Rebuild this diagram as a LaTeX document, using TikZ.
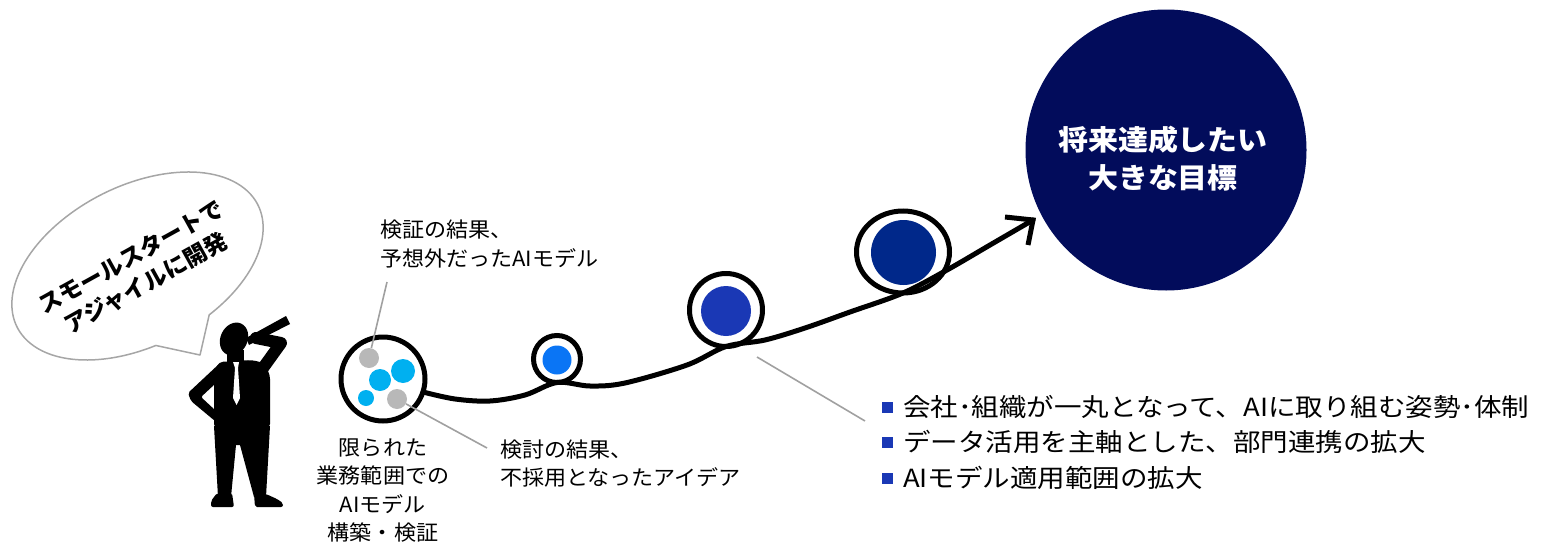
\documentclass[tikz,border=0pt]{standalone}
\usepackage{fontspec}
\setmainfont{Noto Sans CJK JP}
\newfontfamily\jpwide{Noto Sans CJK JP}[FakeStretch=1.1]
\newfontfamily\jpsoft{Noto Sans CJK JP}[FakeStretch=1.05]
\newfontfamily\jpgoal{Noto Sans CJK JP}[FakeStretch=1.07]
\usetikzlibrary{shapes.geometric}

\definecolor{navy}{HTML}{020C5B}
\definecolor{deepblue}{HTML}{00288A}
\definecolor{midblue}{HTML}{1A38B5}
\definecolor{brightblue}{HTML}{0A75F5}
\definecolor{cyanball}{HTML}{00B0F0}
\definecolor{grayball}{HTML}{B8B8B8}
\definecolor{calloutgray}{HTML}{A0A0A0}
\definecolor{bubbleedge}{HTML}{A6A6A6}

\begin{document}
\begin{tikzpicture}[x=1pt, y=-1pt,
  ring/.style={circle, draw=black, line width=5pt, inner sep=0pt, outer sep=0pt},
  ball/.style={circle, inner sep=0pt},
  callline/.style={draw=calloutgray, line width=1.6pt},
  lbl/.style={inner sep=0pt, font=\jpsoft\fontsize{21}{28.5}\selectfont},
  bulletsq/.style={rectangle, fill=midblue, inner sep=0pt, minimum size=11pt},
  bullettext/.style={inner sep=0pt, anchor=west, font=\jpwide\fontsize{25}{30}\selectfont},
  road/.style={line width=5pt, line cap=round, line join=round},
]
\useasboundingbox (0,0) rectangle (1548,546);

% speech bubble with its tail
\begin{scope}[shift={(137.5,266)}, rotate=27]
  \filldraw[fill=white, draw=bubbleedge, line width=1.5pt, line join=round]
    (72:135 and 80) arc[start angle=72, end angle=-261.6, x radius=135, y radius=80]
    -- (15.3,107.7) -- cycle;
\end{scope}
\node[rotate=29, align=center, inner sep=0pt,
      font=\fontsize{23}{30}\selectfont\bfseries] (say) at (138.5,270)
  {スモールスタートで\\アジャイルに開発};

% man looking through a telescope
\begin{scope}[fill=black]
  % telescope
  \fill (246,338) -- (286,316) -- (290,324) -- (249,345) -- cycle;
  % head and neck
  \fill[rotate around={-25:(234,339)}] (234,339) ellipse[x radius=13.5, y radius=17];
  \fill (227,350) rectangle (244,367);
  % torso
  \fill[rounded corners=4pt] (214,372) -- (219,362) -- (252,360) -- (264,363)
    -- (270,375) -- (270,428) -- (214,428) -- cycle;
  % raised arm holding the telescope
  \draw[line width=12pt, line cap=round, line join=round] (263,368) -- (281,343) -- (256,338);
  % arm resting on the hip
  \fill[rounded corners=2pt] (219,364) -- (188,393) -- (191,401) -- (215,421)
    -- (215,410) -- (201,397) -- (215,384) -- cycle;
  % legs
  \fill (214,426) -- (270,426) -- (266,497) -- (254,497) -- (240,445)
    -- (236,445) -- (231,497) -- (218,497) -- cycle;
  % shoes
  \fill[rounded corners=2pt] (217,493) -- (232,493) -- (234,507) -- (211,507) -- (211,501) -- cycle;
  \fill[rounded corners=2pt] (254,494) -- (266,494) -- (277,499) -- (283,503) -- (283,507) -- (255,507) -- cycle;
\end{scope}
% tie
\fill[white] (233,362) -- (239,362) -- (238,368) -- (240,398) -- (236.5,405)
  -- (233,398) -- (235,368) -- cycle;

% starting circle with the first ideas
\node[ring, minimum size=84pt] (start) at (383,379) {};
\node[ball, fill=grayball, minimum size=20pt] (g1) at (369,358) {};
\node[ball, fill=cyanball, minimum size=24pt] (c1) at (403,371) {};
\node[ball, fill=cyanball, minimum size=22pt] (c2) at (380,380) {};
\node[ball, fill=cyanball, minimum size=16pt] (c3) at (366,398) {};
\node[ball, fill=grayball, minimum size=20pt] (g2) at (397,399) {};

% loops along the road
\node[ring, minimum size=47pt] (loopA) at (557,359) {};
\node[ball, fill=brightblue, minimum size=29pt] (dotA) at (557,360) {};
\node[ring, minimum size=73pt] (loopB) at (726,310) {};
\node[ball, fill=midblue, minimum size=50pt] (dotB) at (726,311) {};
\node[ellipse, draw=black, line width=5pt, inner sep=0pt, outer sep=0pt,
      minimum width=93pt, minimum height=82pt] (loopC) at (903,252) {};
\node[ball, fill=deepblue, minimum size=65pt] (dotC) at (903.5,252.5) {};

% the goal
\node[ball, fill=navy, minimum size=281pt] (goal) at (1166,150) {};
\node[align=center, inner sep=0pt, text=white,
      font=\jpgoal\fontsize{28}{38}\selectfont\bfseries] (goaltext) at (1163,159)
  {将来達成したい\\大きな目標};

% road with arrow head
\coordinate (tip) at (1033,220);
\coordinate (barbA) at (1005,217);
\coordinate (barbB) at (1028,245);
\draw[road] plot[smooth, tension=0.55] coordinates {(start.-18) (455,399) (490,401)
  (525,395) (loopA.south) (590,386) (625,383) (687,365) (loopB.south) (765,340)
  (805,328) (850,312) (loopC.south) (947,270) (990,245) (tip)};
\draw[line width=5pt, line cap=butt, line join=miter] (barbA) -- (tip) -- (barbB);

% callouts
\coordinate (cA) at (387,282);
\coordinate (cB) at (487,448);
\coordinate (cC) at (757,357);
\coordinate (cD) at (865,421);
\draw[callline] (g1) -- (cA);
\draw[callline] (g2) -- (cB);
\draw[callline] (cC) -- (cD);

% labels
\node[lbl, align=left, anchor=west] (unexpected) at (380,244)
  {検証の結果、\\予想外だったAIモデル};
\node[lbl, align=left, anchor=west] (rejected) at (500,463.5)
  {検討の結果、\\不採用となったアイデア};
\node[lbl, align=center] (scope) at (383,490.5)
  {限られた\\業務範囲での\\AIモデル\\構築・検証};

% outcomes
\node[bulletsq] (sq1) at (887.5,407) {};
\node[bulletsq] (sq2) at (887.5,442) {};
\node[bulletsq] (sq3) at (887.5,478) {};
\node[bullettext] (t1) at (903,407) {会社･組織が一丸となって、AIに取り組む姿勢･体制};
\node[bullettext] (t2) at (903,442) {データ活用を主軸とした、部門連携の拡大};
\node[bullettext] (t3) at (903,478) {AIモデル適用範囲の拡大};
\end{tikzpicture}
\end{document}
